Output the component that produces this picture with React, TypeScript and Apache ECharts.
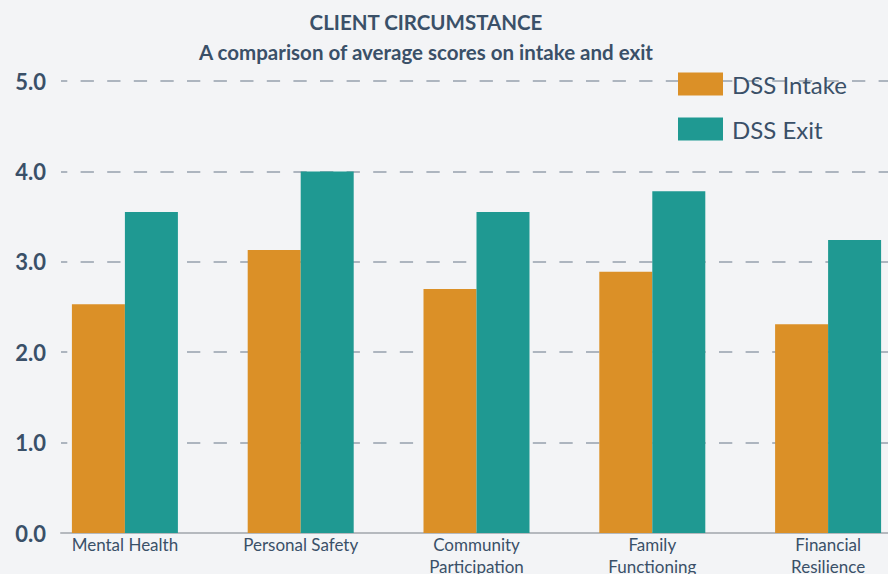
import React, { useEffect, useRef } from "react";
import * as echarts from "echarts";

const categories = [
  "Mental Health",
  "Personal Safety",
  "Community\nParticipation",
  "Family\nFunctioning",
  "Financial\nResilience",
];
const intakeValues = [2.53, 3.13, 2.7, 2.89, 2.31];
const exitValues = [3.55, 4.0, 3.55, 3.78, 3.24];
const seriesNames = ["DSS Intake", "DSS Exit"];
const titleText = "CLIENT CIRCUMSTANCE";
const subtitleText = "A comparison of average scores on intake and exit";

const TEXT = "#3a5068";
const FONT = "Lato";

export default function App() {
  const ref = useRef<HTMLDivElement>(null);
  useEffect(() => {
    if (!ref.current) return;
    const chart = echarts.init(ref.current, undefined, { renderer: "svg" });
    chart.setOption({
      animation: false,
      backgroundColor: "#f3f4f6",
      textStyle: { fontFamily: FONT },
      title: [
        {
          text: titleText,
          left: 421,
          textAlign: "center",
          top: 6,
          textStyle: { fontFamily: FONT, fontSize: 20.5, fontWeight: "bold", color: TEXT },
        },
        {
          text: subtitleText,
          left: 421,
          textAlign: "center",
          top: 36,
          textStyle: { fontFamily: FONT, fontSize: 20.5, fontWeight: "bold", color: TEXT },
        },
      ],
      legend: {
        orient: "vertical",
        left: 678,
        top: 72,
        padding: 0,
        itemWidth: 45,
        itemHeight: 23,
        itemGap: 21,
        icon: "rect",
        data: seriesNames,
        textStyle: { fontFamily: FONT, fontSize: 24, color: TEXT, padding: [0, 0, 5, 4] },
      },
      grid: [
        { left: 37, top: 81, right: 0, height: 452, outerBoundsMode: "none", containLabel: false },
        { left: 61, top: 81, right: 28, height: 452, outerBoundsMode: "none", containLabel: false },
      ],
      xAxis: [
        {
          type: "category",
          gridIndex: 0,
          data: categories,
          axisLine: { show: false },
          axisTick: { show: false },
          axisLabel: {
            interval: 0,
            margin: 0,
            fontFamily: FONT,
            fontSize: 17,
            lineHeight: 22,
            color: TEXT,
          },
        },
        {
          type: "value",
          gridIndex: 1,
          min: 0,
          max: 1,
          axisLine: { show: true, lineStyle: { color: "#b5b9be", width: 2 } },
          axisTick: { show: false },
          axisLabel: { show: false },
          splitLine: { show: false },
        },
      ],
      yAxis: [
        {
          type: "value",
          gridIndex: 0,
          min: 0,
          max: 5,
          interval: 1,
          axisLabel: { show: false },
          axisLine: { show: false },
          axisTick: { show: false },
          splitLine: { show: false },
        },
        {
          type: "value",
          gridIndex: 1,
          min: 0,
          max: 5,
          interval: 1,
          axisLine: { show: false },
          axisTick: { show: false },
          axisLabel: {
            margin: 15,
            fontFamily: FONT,
            fontSize: 22,
            fontWeight: "bold",
            color: TEXT,
            formatter: (v: number) => v.toFixed(1),
          },
          splitLine: {
            show: true,
            lineStyle: {
              color: "#adb5bf",
              width: 2,
              type: [13.3, 13.3],
              dashOffset: 6.6,
            },
          },
        },
      ],
      series: [
        {
          name: seriesNames[0],
          type: "bar",
          xAxisIndex: 0,
          yAxisIndex: 0,
          data: intakeValues,
          barWidth: 53,
          barGap: "0%",
          itemStyle: { color: "#db9027" },
        },
        {
          name: seriesNames[1],
          type: "bar",
          xAxisIndex: 0,
          yAxisIndex: 0,
          data: exitValues,
          barWidth: 53,
          barGap: "0%",
          itemStyle: { color: "#1f9992" },
        },
      ],
    });
    return () => chart.dispose();
  }, []);
  return (
    <div
      style={{
        position: "absolute",
        left: 0,
        top: 0,
        width: 888,
        height: 574,
        overflow: "hidden",
        background: "#f3f4f6",
      }}
    >
      <div ref={ref} style={{ width: 916, height: 574 }} />
    </div>
  );
}
